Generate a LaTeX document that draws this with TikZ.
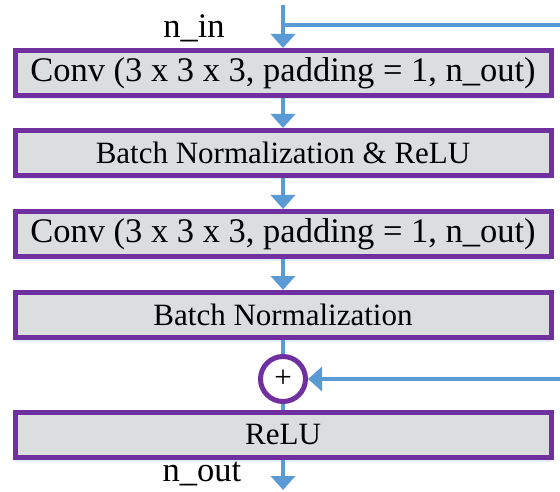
\documentclass[tikz,border=0pt]{standalone}
\usepackage{fontspec}
\setmainfont{Liberation Serif}
\usepackage{xcolor}
\usepackage{tikz}
\usetikzlibrary{shapes,positioning,calc,shadows}
\usetikzlibrary{arrows.meta}
\definecolor{blockpurple}{HTML}{7030A0}
\definecolor{blockgray}{HTML}{DCDDDF}
\definecolor{flowblue}{HTML}{5B9BD5}
\definecolor{glowblue}{HTML}{DDEBF7}
\tikzstyle{block} = [rectangle, draw=blockpurple, fill=blockgray, line width=5pt, text centered, inner sep=0pt, minimum width=536pt, minimum height=45pt, drop shadow={shadow xshift=0pt, shadow yshift=-4pt, fill=glowblue, opacity=0.8}]
\tikzstyle{sumnode} = [circle, draw=blockpurple, fill=white, line width=5pt, inner sep=0pt, minimum size=45pt]
\tikzstyle{line} = [draw=flowblue, line width=4pt]
\tikzstyle{flow} = [line, -{Triangle[width=24pt,length=14pt]}]
\newcommand{\bigtxt}{\fontsize{34.5}{38}\selectfont}
\newcommand{\midtxt}{\fontsize{31}{34}\selectfont}

\begin{document}
\begin{tikzpicture}[x=1pt,y=-1pt]
	\useasboundingbox (0,0) rectangle (560,492);
	% blocks
	\node[block] (conv1) at (283,73) {\bigtxt Conv (3 x 3 x 3, padding = 1, n\_out)};
	\node[block] (bnrelu) at (283,153) {\midtxt Batch Normalization \& ReLU};
	\node[block] (conv2) at (283,234) {\bigtxt Conv (3 x 3 x 3, padding = 1, n\_out)};
	\node[block] (bn) at (283,315) {\midtxt Batch Normalization};
	\node[sumnode] (add) at (283,379) {\fontsize{31}{32}\selectfont +};
	\node[block] (relu) at (283,435) {\midtxt ReLU};
	% free ends
	\coordinate (in) at (283,5);
	\coordinate (skipin) at (560,25);
	\coordinate (skipout) at (560,379);
	\coordinate (out) at (283,490);
	% labels
	\node[anchor=base, inner sep=0pt] (inlabel) at (194,38) {\bigtxt n\_in};
	\node[anchor=base, inner sep=0pt] (outlabel) at (202,481) {\bigtxt n\_out};
	% connectors
	\draw[line] (in |- skipin) -- (skipin);
	\draw[flow] (in) -- (conv1);
	\draw[flow] (conv1) -- (bnrelu);
	\draw[flow] (bnrelu) -- (conv2);
	\draw[flow] (conv2) -- (bn);
	\draw[line] (bn) -- (add);
	\draw[line] (add) -- (relu);
	\draw[flow] (skipout) -- (add);
	\draw[flow] (relu) -- (out);
\end{tikzpicture}
\end{document}
